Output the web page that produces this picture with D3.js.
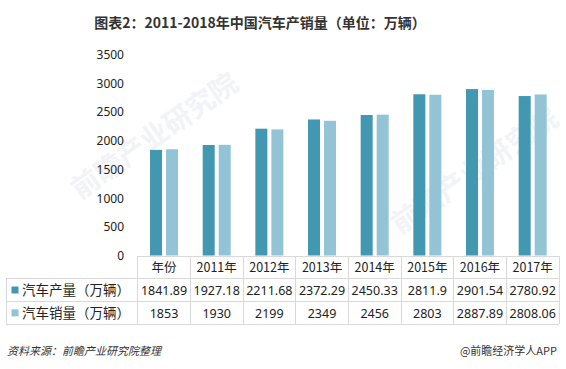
<!DOCTYPE html>
<html><head><meta charset="utf-8">
<script src="https://cdn.jsdelivr.net/npm/d3@7/dist/d3.min.js"></script>
<style>
body{margin:0;background:#fff;}
svg{display:block;font-family:"Noto Sans CJK SC","Noto Sans",sans-serif;}
</style></head>
<body>
<svg id="c" width="566" height="369"></svg>
<script>
const categories = ["年份","2011年","2012年","2013年","2014年","2015年","2016年","2017年"];
const seriesNames = ["汽车产量（万辆）","汽车销量（万辆）"];
const production = [1841.89,1927.18,2211.68,2372.29,2450.33,2811.9,2901.54,2780.92];
const sales = [1853,1930,2199,2349,2456,2803,2887.89,2808.06];
const yTicks = [0,500,1000,1500,2000,2500,3000,3500];
const colors = ["#4298b0","#93c4d6"];

const svg = d3.select("#c");

// watermark
const wm = svg.append("g").attr("fill","#f1f3f6").attr("font-weight","bold");
wm.append("text").attr("transform","translate(80,200) rotate(-35)").attr("font-size",28).text("前瞻产业研究院");
wm.append("text").attr("transform","translate(400,235) rotate(-35)").attr("font-size",28).text("前瞻产业研究院");

// title
svg.append("text").attr("x",260).attr("y",28).attr("text-anchor","middle")
  .attr("font-size",14).attr("font-weight","bold").attr("fill","#333")
  .text("图表2：2011-2018年中国汽车产销量（单位：万辆）");

const x0 = 137.7, x1 = 559;
const y = d3.scaleLinear().domain([0,3500]).range([255.5,54.8]);
const xb = d3.scaleBand().domain(categories).range([x0,x1]).padding(0);
const xs = d3.scaleBand().domain([0,1]).range([0,xb.bandwidth()]).paddingInner(0.25).paddingOuter(0.77);

// y axis labels
const yAxis = d3.axisLeft(y).tickValues(yTicks).tickSize(0).tickPadding(0).tickFormat(d3.format("d"));
const ga = svg.append("g").attr("transform","translate(124,0)").call(yAxis);
ga.select(".domain").remove();
ga.selectAll("text").attr("font-size",12).attr("fill","#222")
  .attr("font-family","'Noto Sans','DejaVu Sans',sans-serif");

// bars
const series = [production, sales];
series.forEach((vals,si)=>{
  svg.append("g").selectAll("rect").data(vals).join("rect")
    .attr("x",(d,i)=>xb(categories[i])+xs(si))
    .attr("width",xs.bandwidth())
    .attr("y",d=>y(d))
    .attr("height",d=>y(0)-y(d))
    .attr("fill",colors[si]);
});

// table
const rowY = [256,278.3,301.7,324];
const lineColor = "#d9d9d9";
const tg = svg.append("g").attr("stroke",lineColor).attr("stroke-width",1).attr("shape-rendering","crispEdges");
tg.append("line").attr("x1",x0).attr("x2",x1).attr("y1",rowY[0]).attr("y2",rowY[0]);
[1,2,3].forEach(r=>tg.append("line").attr("x1",6).attr("x2",x1).attr("y1",rowY[r]).attr("y2",rowY[r]));
const bounds = categories.map(c=>xb(c)).concat([x1]);
bounds.forEach(b=>tg.append("line").attr("x1",b).attr("x2",b).attr("y1",rowY[0]).attr("y2",rowY[3]));
tg.append("line").attr("x1",6).attr("x2",6).attr("y1",rowY[1]).attr("y2",rowY[3]);

const txt = svg.append("g").attr("font-size",12.5).attr("fill","#222").attr("text-anchor","middle");
categories.forEach((c,i)=>{
  const cx = xb(c)+xb.bandwidth()/2;
  txt.append("text").attr("x",cx).attr("y",271.5).text(c);
  txt.append("text").attr("x",cx).attr("y",294.5).attr("font-family","'Noto Sans',sans-serif").text(production[i]);
  txt.append("text").attr("x",cx).attr("y",317.5).attr("font-family","'Noto Sans',sans-serif").text(sales[i]);
});
seriesNames.forEach((n,si)=>{
  const cy = (rowY[si+1]+rowY[si+2])/2;
  svg.append("rect").attr("x",11.5).attr("y",cy-3.5).attr("width",7).attr("height",7).attr("fill",colors[si]);
  svg.append("text").attr("x",22).attr("y",cy+5).attr("font-size",13.5).attr("fill","#222").text(n);
});

// footer
svg.append("text").attr("x",7).attr("y",355).attr("font-size",11).attr("font-style","italic").attr("fill","#333")
  .text("资料来源：前瞻产业研究院整理");
svg.append("text").attr("x",557).attr("y",355).attr("text-anchor","end").attr("font-size",11).attr("fill","#333")
  .text("@前瞻经济学人APP");
</script>
</body></html>
